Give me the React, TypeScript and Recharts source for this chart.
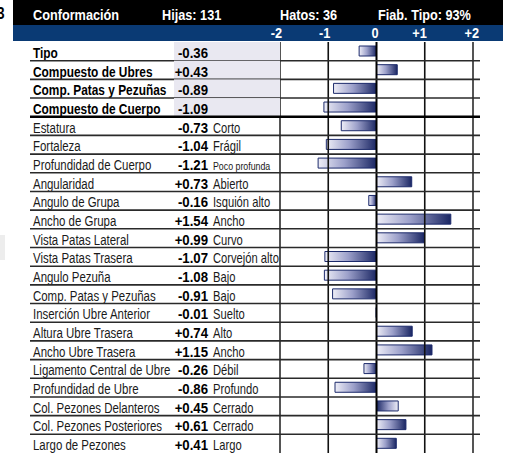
import React from 'react';
import { BarChart, Bar, XAxis, YAxis, ReferenceLine, Cell } from 'recharts';

const traits = [
  'Tipo',
  'Compuesto de Ubres',
  'Comp. Patas y Pezuñas',
  'Compuesto de Cuerpo',
  'Estatura',
  'Fortaleza',
  'Profundidad de Cuerpo',
  'Angularidad',
  'Angulo de Grupa',
  'Ancho de Grupa',
  'Vista Patas Lateral',
  'Vista Patas Trasera',
  'Angulo Pezuña',
  'Comp. Patas y Pezuñas',
  'Inserción Ubre Anterior',
  'Altura Ubre Trasera',
  'Ancho Ubre Trasera',
  'Ligamento Central de Ubre',
  'Profundidad de Ubre',
  'Col. Pezones Delanteros',
  'Col. Pezones Posteriores',
  'Largo de Pezones',
];

const values = [
  -0.36, 0.43, -0.89, -1.09, -0.73, -1.04, -1.21, 0.73, -0.16, 1.54, 0.99,
  -1.07, -1.08, -0.91, -0.01, 0.74, 1.15, -0.26, -0.86, 0.45, 0.61, 0.41,
];

const descriptors = [
  '', '', '', '', 'Corto', 'Frágil', 'Poco profunda', 'Abierto', 'Isquión alto',
  'Ancho', 'Curvo', 'Corvejón alto', 'Bajo', 'Bajo', 'Suelto', 'Alto', 'Ancho',
  'Débil', 'Profundo', 'Cerrado', 'Cerrado', 'Largo',
];

const compositeCount = 4;
const smallDescriptorRows = [6];
const reversedGradientRows = [19];
const axisTicks = [-2, -1, 0, 1, 2];
const tickLabels = ['-2', '-1', '0', '+1', '+2'];
const headerLabels = ['Conformación', 'Hijas: 131', 'Hatos: 36', 'Fiab. Tipo: 93%'];

const W = 506;
const H = 454;
const PLOT_TOP = 42;
const BOTTOM_M = 1;
const LEFT_W = 280;
const RIGHT_M = 33;
const ROW_H = (H - PLOT_TOP - BOTTOM_M) / traits.length;

const FONT = '"Liberation Sans", Arial, sans-serif';

const data = traits.map((name, i) => ({
  id: i,
  name,
  value: values[i],
  desc: descriptors[i],
}));

const fmt = (v: number) => (v > 0 ? '+' : v < 0 ? '-' : '') + Math.abs(v).toFixed(2);

type NTextProps = {
  x: number;
  y: number;
  k?: number;
  size: number;
  bold?: boolean;
  anchor?: 'start' | 'end' | 'middle';
  fill?: string;
  children: React.ReactNode;
};

const NText = ({ x, y, k = 0.82, size, bold, anchor = 'start', fill = '#000', children }: NTextProps) => (
  <text
    transform={`translate(${x},${y}) scale(${k},1)`}
    x={0}
    y={0}
    textAnchor={anchor}
    fontFamily={FONT}
    fontSize={size}
    fontWeight={bold ? 700 : 400}
    fill={fill}
  >
    {children}
  </text>
);

const RowTick = (props: any) => {
  const { y, payload } = props;
  const i = Number(payload.value);
  const d = data[i];
  if (!d) return null;
  const composite = i < compositeCount;
  const top = y - ROW_H / 2;
  const bottom = y + ROW_H / 2;
  const base = y + 6.5;
  const isSep = i === compositeCount - 1;
  const small = smallDescriptorRows.includes(i);
  return (
    <g>
      {composite && <rect x={174} y={top} width={LEFT_W - 174} height={ROW_H} fill="#E9E8F1" />}
      <NText
        x={33}
        y={base}
        size={14.5}
        bold={composite}
        fill={composite ? '#000' : '#1a1a1a'}
        k={composite ? 0.82 : 0.79}
      >
        {d.name}
      </NText>
      <NText x={208} y={base} anchor="end" size={15} bold k={0.88}>
        {fmt(d.value)}
      </NText>
      {d.desc && (
        <NText x={213} y={base} size={small ? 11 : 14} fill="#1a1a1a" k={0.8}>
          {d.desc}
        </NText>
      )}
      {i < data.length - 1 && (
        <line
          x1={30}
          x2={480}
          y1={bottom}
          y2={bottom}
          stroke={isSep ? '#000' : '#2a2a2a'}
          strokeWidth={isSep ? 2.5 : 1.6}
        />
      )}
    </g>
  );
};

const XTick = (props: any) => {
  const { x, payload } = props;
  const idx = axisTicks.indexOf(payload.value);
  const dx = idx === axisTicks.length - 1 ? 6 : 2;
  return (
    <NText x={x + dx} y={38} anchor="end" size={15} bold fill="#fff" k={0.85}>
      {tickLabels[idx]}
    </NText>
  );
};

const headerX = [33, 162, 280, 378];

export default function App() {
  return (
    <div style={{ position: 'absolute', left: 0, top: 0, width: W, height: H, background: '#fff', overflow: 'hidden' }}>
      <svg width={W} height={H} style={{ position: 'absolute', left: 0, top: 0 }}>
        <NText x={-3} y={19} size={16} bold k={0.85}>3</NText>
        <rect x={0} y={235} width={5} height={25} fill="#EDEDED" />
        <rect x={13} y={0} width={490} height={25} fill="#000" />
        <rect x={13} y={25} width={490} height={16} fill="#0A3A74" />
        {headerLabels.map((t, i) => (
          <NText key={t} x={headerX[i]} y={19.5} size={15.5} bold fill="#fff" k={0.82}>
            {t}
          </NText>
        ))}
      </svg>
      <div style={{ position: 'absolute', left: 0, top: 0 }}>
        <BarChart
          width={W}
          height={H}
          data={data}
          layout="vertical"
          margin={{ top: 0, right: RIGHT_M, bottom: BOTTOM_M, left: 0 }}
          barCategoryGap={0}
        >
          <defs>
            <linearGradient id="barGrad" x1="0" y1="0" x2="1" y2="0">
              <stop offset="0%" stopColor="#EEEEF7" />
              <stop offset="45%" stopColor="#9CA0CA" />
              <stop offset="100%" stopColor="#1A2663" />
            </linearGradient>
            <linearGradient id="barGradRev" x1="1" y1="0" x2="0" y2="0">
              <stop offset="0%" stopColor="#EEEEF7" />
              <stop offset="45%" stopColor="#9CA0CA" />
              <stop offset="100%" stopColor="#1A2663" />
            </linearGradient>
          </defs>
          <XAxis
            type="number"
            orientation="top"
            domain={[-2, 2]}
            ticks={axisTicks}
            interval={0}
            height={PLOT_TOP}
            axisLine={false}
            tickLine={false}
            tick={<XTick />}
          />
          <YAxis
            type="category"
            dataKey="id"
            width={LEFT_W}
            interval={0}
            axisLine={false}
            tickLine={false}
            tick={<RowTick />}
          />
          <ReferenceLine x={-2} stroke="#555" strokeWidth={2} />
          <ReferenceLine x={-1} stroke="#111" strokeWidth={1.6} />
          <ReferenceLine x={0} stroke="#000" strokeWidth={2} />
          <ReferenceLine x={1} stroke="#111" strokeWidth={1.6} />
          <ReferenceLine x={2} stroke="#555" strokeWidth={2} />
          <Bar dataKey="value" barSize={10} isAnimationActive={false} stroke="#1C2A6B" strokeWidth={1}>
            {data.map((d, i) => (
              <Cell key={d.id} fill={reversedGradientRows.includes(i) ? 'url(#barGradRev)' : 'url(#barGrad)'} />
            ))}
          </Bar>
        </BarChart>
      </div>
    </div>
  );
}
